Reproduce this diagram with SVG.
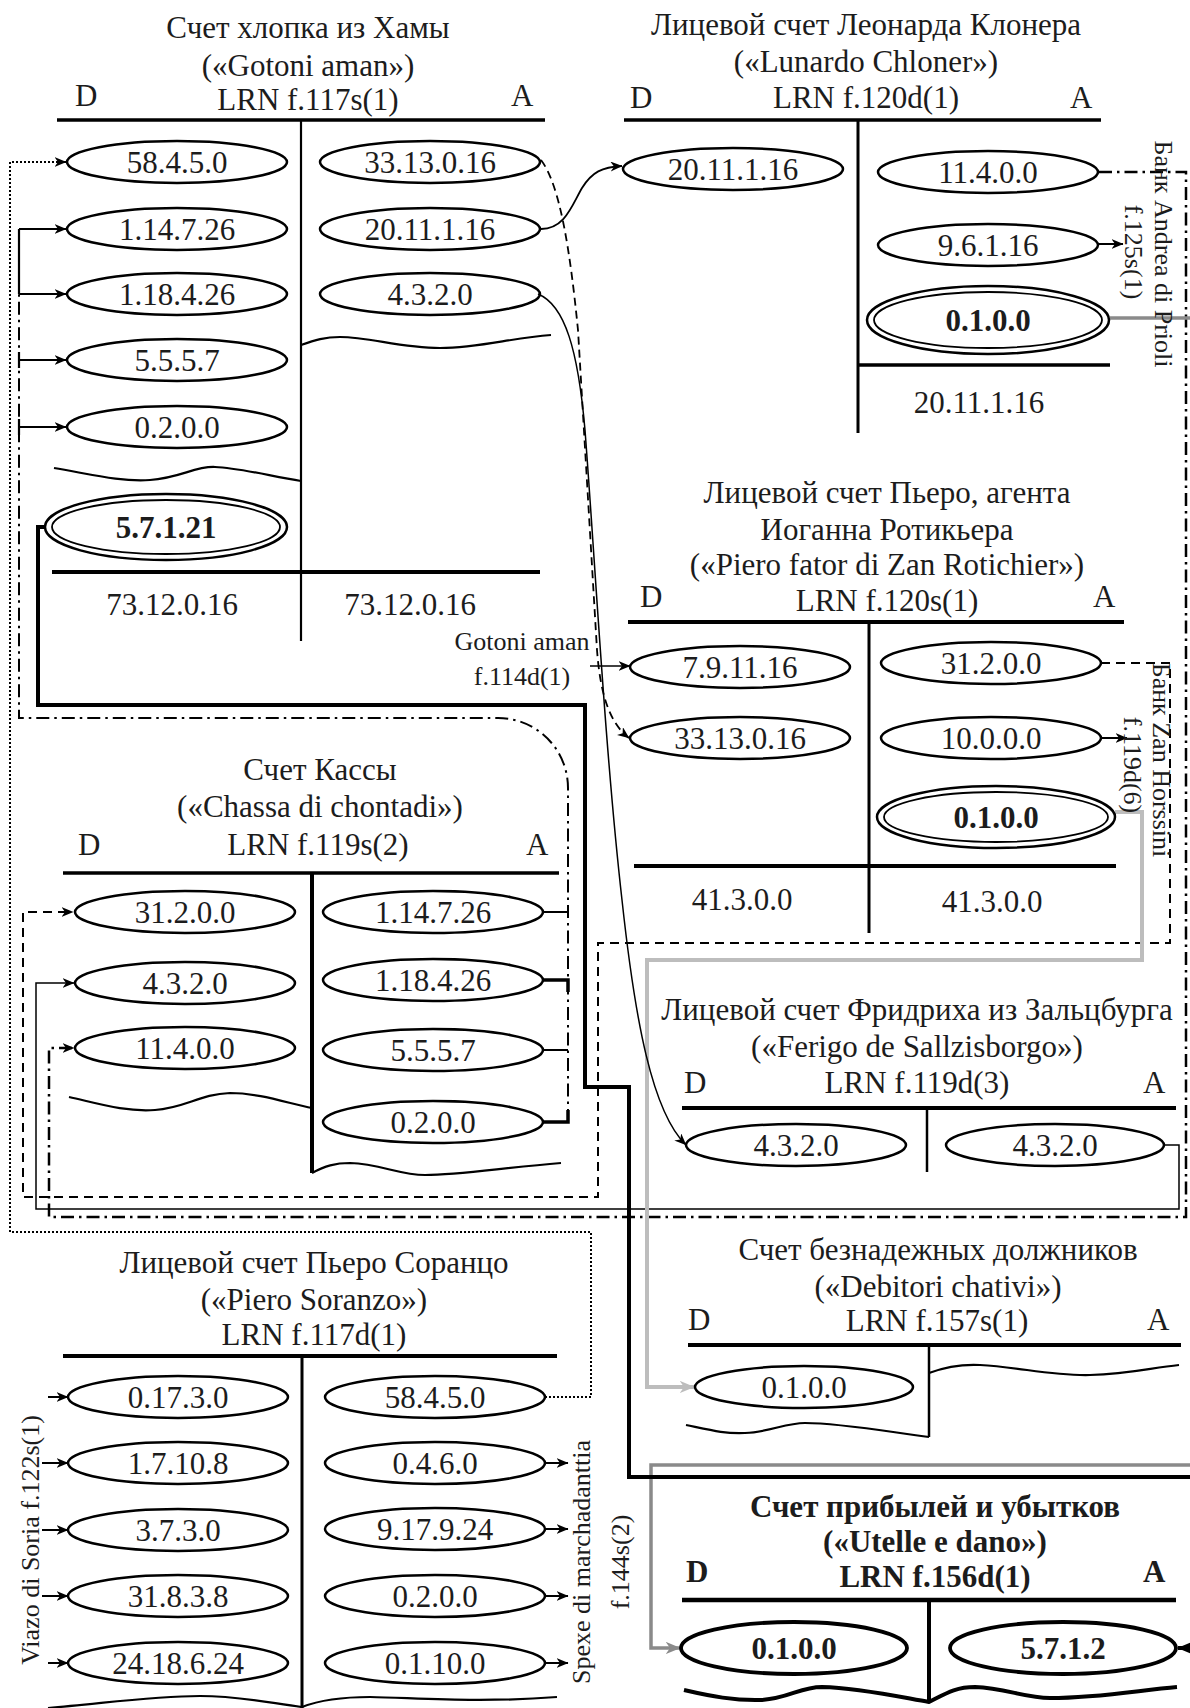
<svg xmlns="http://www.w3.org/2000/svg" width="1190" height="1708" viewBox="0 0 1190 1708">
<style>
text{font-family:"Liberation Serif","Times New Roman",serif;font-size:31px;fill:#1c1c1c}
.c{text-anchor:middle}
.b{font-weight:bold}
.s{font-size:26px}
.e{fill:none;stroke:#000;stroke-width:2.5}
.e2{fill:none;stroke:#000;stroke-width:1.8}
.eb{fill:none;stroke:#000;stroke-width:3.8}
.ln{stroke:#000;fill:none}
.w{fill:none;stroke:#000;stroke-width:2.2}
.wb{fill:none;stroke:#000;stroke-width:4}
.cn{fill:none;stroke:#000}
.g1{fill:none;stroke:#bdbdbd;stroke-width:4}
.g2{fill:none;stroke:#8a8a8a;stroke-width:3.5}
.dd{stroke-dasharray:13 5 2.5 5}
.da{stroke-dasharray:9 6}
.dt{stroke-dasharray:2 2}
</style>
<defs>
<marker id="ah" viewBox="0 0 12 10" refX="11.5" refY="5" markerWidth="12" markerHeight="10" markerUnits="userSpaceOnUse" orient="auto"><path d="M0,0 L12,5 L0,10 L3.5,5 Z" fill="#000"/></marker>
<marker id="ahg1" viewBox="0 0 12 10" refX="11.5" refY="5" markerWidth="15" markerHeight="13" markerUnits="userSpaceOnUse" orient="auto"><path d="M0,0 L12,5 L0,10 L3.5,5 Z" fill="#bdbdbd"/></marker>
<marker id="ahg2" viewBox="0 0 12 10" refX="11.5" refY="5" markerWidth="15" markerHeight="13" markerUnits="userSpaceOnUse" orient="auto"><path d="M0,0 L12,5 L0,10 L3.5,5 Z" fill="#8a8a8a"/></marker>
<marker id="ahb" viewBox="0 0 12 10" refX="11.5" refY="5" markerWidth="16" markerHeight="14" markerUnits="userSpaceOnUse" orient="auto"><path d="M0,0 L12,5 L0,10 L3.5,5 Z" fill="#000"/></marker>
</defs>
<rect width="1190" height="1708" fill="#fff"/>

<g id="connectors">
<!-- dotted: Soranzo 58.4.5.0 -> Gotoni 58.4.5.0 -->
<path class="cn dt" stroke-width="2" d="M545,1397 L591,1397 L591,1232 L10,1232 L10,162 L66,162" marker-end="url(#ah)"/>
<!-- dash-dot: Chassa credits -> Gotoni debits -->
<path class="cn dd" stroke-width="2" d="M568,1122 L568,788 A70,70 0 0 0 498,718 L19,718 L19,294"/>
<path class="cn" stroke-width="2" d="M543,912 L568,912 M543,1050 L568,1050"/>
<path class="cn" stroke-width="3.5" d="M543,980 L568,980 L568,992 M543,1122 L568,1122 L568,1110"/>
<path class="cn" stroke-width="2.2" d="M19,229 L19,294 M19,352 L19,368 M19,419 L19,435"/>
<path class="cn" stroke-width="2" d="M19,229 L66,229" marker-end="url(#ah)"/>
<path class="cn" stroke-width="2" d="M19,294 L66,294" marker-end="url(#ah)"/>
<path class="cn" stroke-width="2" d="M19,360 L66,360" marker-end="url(#ah)"/>
<path class="cn" stroke-width="2" d="M19,427 L66,427" marker-end="url(#ah)"/>
<!-- dashed: Piero 31.2.0.0 -> Chassa 31.2.0.0 -->
<path class="cn da" stroke-width="2" d="M1101,663 L1170,663 L1170,943 L598,943 L598,1197 L23,1197 L23,912 L73,912" marker-end="url(#ah)"/>
<!-- solid thin: Ferigo 4.3.2.0 -> Chassa 4.3.2.0 -->
<path class="cn" stroke-width="1.5" d="M1164,1145 L1179,1145 L1179,1209 L36,1209 L36,983 L74,983" marker-end="url(#ah)"/>
<!-- dash-dot: Lunardo 11.4.0.0 -> Chassa 11.4.0.0 -->
<path class="cn dd" stroke-width="2.5" d="M1099,172 L1186,172 L1186,1217 L49,1217 L49,1048 L74,1048" marker-end="url(#ah)"/>
<!-- dark gray: Lunardo 0.1.0.0 -> Utelle 0.1.0.0 -->
<path class="g2" d="M1110,318 L1200,318 L1200,1465 L651,1465 L651,1648 L680,1648" marker-end="url(#ahg2)"/>
<!-- light gray: Piero 0.1.0.0 -> Debitori 0.1.0.0 -->
<path class="g1" d="M1115,812 L1142,812 L1142,960 L647,960 L647,1387 L694,1387" marker-end="url(#ahg1)"/>
<!-- thick black: Gotoni 5.7.1.21 -> Utelle 5.7.1.2 -->
<path class="cn" stroke-width="4" d="M45,527 L38,527 L38,705 L585,705 L585,1087 L629,1087 L629,1477 L1200,1477 L1200,1648 L1178,1648" marker-end="url(#ahb)"/>
<!-- Gotoni 20.11.1.16 -> Lunardo 20.11.1.16 -->
<path class="cn" stroke-width="1.8" d="M541,229 C565,229 572,205 582,188 C592,172 602,167 622,166" marker-end="url(#ah)"/>
<!-- Gotoni 33.13.0.16 -> Piero 33.13.0.16 (dashed) -->
<path class="cn" stroke-width="1.8" stroke-dasharray="8 5" d="M541,160 C560,185 570,250 578,330 L597,650 C600,690 608,722 629,738" marker-end="url(#ah)"/>
<!-- Gotoni 4.3.2.0 -> Ferigo 4.3.2.0 -->
<path class="cn" stroke-width="1.5" d="M538,294 C565,305 578,350 585,430 C595,560 605,750 622,900 C635,1020 652,1112 686,1145" marker-end="url(#ah)"/>
<!-- Gotoni aman f.114d(1) -> Piero 7.9.11.16 -->
<path class="cn" stroke-width="1.5" d="M590,666 L630,666" marker-end="url(#ah)"/>
<!-- Lunardo 9.6.1.16 -> Bank Andrea di Prioli -->
<path class="cn" stroke-width="2" d="M1099,244 L1123,244" marker-end="url(#ah)"/>
<!-- Piero 10.0.0.0 -> Bank Zan Horssini -->
<path class="cn" stroke-width="2" d="M1101,738 L1127,738" marker-end="url(#ah)"/>
<!-- Soranzo arrows -->
<path class="cn" stroke-width="2" d="M48,1397 L68,1397" marker-end="url(#ah)"/>
<path class="cn" stroke-width="2" d="M42,1463 L68,1463" marker-end="url(#ah)"/>
<path class="cn" stroke-width="2" d="M42,1530 L68,1530" marker-end="url(#ah)"/>
<path class="cn" stroke-width="2" d="M42,1596 L68,1596" marker-end="url(#ah)"/>
<path class="cn" stroke-width="2" d="M48,1663 L68,1663" marker-end="url(#ah)"/>
<path class="cn" stroke-width="2" d="M545,1463 L568,1463" marker-end="url(#ah)"/>
<path class="cn" stroke-width="2" d="M545,1529 L568,1529" marker-end="url(#ah)"/>
<path class="cn" stroke-width="2" d="M545,1596 L568,1596" marker-end="url(#ah)"/>
<path class="cn" stroke-width="2" d="M545,1663 L568,1663" marker-end="url(#ah)"/>
</g>

<g id="acc-gotoni">
<text class="c" x="308" y="38">Счет хлопка из Хамы</text>
<text class="c" x="308" y="76">(«Gotoni aman»)</text>
<text x="75" y="106">D</text>
<text class="c" x="308" y="110">LRN f.117s(1)</text>
<text x="511" y="106">A</text>
<line class="ln" x1="57" y1="120" x2="545" y2="120" stroke-width="3.5"/>
<line class="ln" x1="301" y1="120" x2="301" y2="641" stroke-width="2.2"/>
<ellipse class="e" cx="177" cy="162" rx="110" ry="21"/><text class="c" x="177" y="173">58.4.5.0</text>
<ellipse class="e" cx="177" cy="229" rx="110" ry="21"/><text class="c" x="177" y="240">1.14.7.26</text>
<ellipse class="e" cx="177" cy="294" rx="110" ry="21"/><text class="c" x="177" y="305">1.18.4.26</text>
<ellipse class="e" cx="177" cy="360" rx="110" ry="21"/><text class="c" x="177" y="371">5.5.5.7</text>
<ellipse class="e" cx="177" cy="427" rx="110" ry="21"/><text class="c" x="177" y="438">0.2.0.0</text>
<ellipse class="e" cx="430" cy="162" rx="110" ry="21"/><text class="c" x="430" y="173">33.13.0.16</text>
<ellipse class="e" cx="430" cy="229" rx="110" ry="21"/><text class="c" x="430" y="240">20.11.1.16</text>
<ellipse class="e" cx="430" cy="294" rx="110" ry="21"/><text class="c" x="430" y="305">4.3.2.0</text>
<path class="w" d="M301,345 C315,340 325,337 340,337 C370,337 400,348 440,348 C480,348 510,338 551,335"/>
<path class="w" d="M54,468 C90,474 120,482 150,480 C180,478 195,466 215,467 C240,468 270,476 301,481"/>
<ellipse class="e" cx="166" cy="527" rx="121" ry="33"/>
<ellipse class="e2" cx="166" cy="527" rx="114" ry="27"/>
<text class="c b" x="166" y="538">5.7.1.21</text>
<line class="ln" x1="52" y1="572" x2="540" y2="572" stroke-width="4"/>
<text class="c" x="172" y="615">73.12.0.16</text>
<text class="c" x="410" y="615">73.12.0.16</text>
</g>

<g id="acc-lunardo">
<text class="c" x="866" y="35">Лицевой счет Леонарда Клонера</text>
<text class="c" x="866" y="72">(«Lunardo Chloner»)</text>
<text x="630" y="108">D</text>
<text class="c" x="866" y="108">LRN f.120d(1)</text>
<text x="1070" y="108">A</text>
<line class="ln" x1="624" y1="120" x2="1101" y2="120" stroke-width="3.5"/>
<line class="ln" x1="858" y1="120" x2="858" y2="433" stroke-width="3"/>
<ellipse class="e" cx="733" cy="169" rx="110" ry="21"/><text class="c" x="733" y="180">20.11.1.16</text>
<ellipse class="e" cx="988" cy="172" rx="110" ry="21"/><text class="c" x="988" y="183">11.4.0.0</text>
<ellipse class="e" cx="988" cy="245" rx="110" ry="21"/><text class="c" x="988" y="256">9.6.1.16</text>
<ellipse class="e" cx="988" cy="320" rx="121" ry="34"/>
<ellipse class="e2" cx="988" cy="320" rx="114" ry="28"/>
<text class="c b" x="988" y="331">0.1.0.0</text>
<line class="ln" x1="858" y1="365" x2="1110" y2="365" stroke-width="3.5"/>
<text class="c" x="979" y="413">20.11.1.16</text>
</g>

<g id="acc-piero-fator">
<text class="c" x="887" y="503">Лицевой счет Пьеро, агента</text>
<text class="c" x="887" y="540">Иоганна Ротикьера</text>
<text class="c" x="887" y="575">(«Piero fator di Zan Rotichier»)</text>
<text x="640" y="607">D</text>
<text class="c" x="887" y="611">LRN f.120s(1)</text>
<text x="1093" y="607">A</text>
<line class="ln" x1="628" y1="622" x2="1124" y2="622" stroke-width="4"/>
<line class="ln" x1="869" y1="622" x2="869" y2="933" stroke-width="3"/>
<ellipse class="e" cx="740" cy="667" rx="110" ry="21"/><text class="c" x="740" y="678">7.9.11.16</text>
<ellipse class="e" cx="740" cy="738" rx="110" ry="21"/><text class="c" x="740" y="749">33.13.0.16</text>
<ellipse class="e" cx="991" cy="663" rx="110" ry="21"/><text class="c" x="991" y="674">31.2.0.0</text>
<ellipse class="e" cx="991" cy="738" rx="110" ry="21"/><text class="c" x="991" y="749">10.0.0.0</text>
<ellipse class="e" cx="996" cy="817" rx="119" ry="31"/>
<ellipse class="e2" cx="996" cy="817" rx="112" ry="25"/>
<text class="c b" x="996" y="828">0.1.0.0</text>
<line class="ln" x1="634" y1="866" x2="1116" y2="866" stroke-width="4"/>
<text class="c" x="742" y="910">41.3.0.0</text>
<text class="c" x="992" y="912">41.3.0.0</text>
</g>

<g id="acc-chassa">
<text class="c" x="320" y="780">Счет Кассы</text>
<text class="c" x="320" y="817">(«Chassa di chontadi»)</text>
<text x="78" y="855">D</text>
<text class="c" x="318" y="855">LRN f.119s(2)</text>
<text x="526" y="855">A</text>
<line class="ln" x1="63" y1="873" x2="559" y2="873" stroke-width="3.5"/>
<line class="ln" x1="312" y1="873" x2="312" y2="1173" stroke-width="4"/>
<ellipse class="e" cx="185" cy="912" rx="110" ry="21"/><text class="c" x="185" y="923">31.2.0.0</text>
<ellipse class="e" cx="185" cy="983" rx="110" ry="21"/><text class="c" x="185" y="994">4.3.2.0</text>
<ellipse class="e" cx="185" cy="1048" rx="110" ry="21"/><text class="c" x="185" y="1059">11.4.0.0</text>
<ellipse class="e" cx="433" cy="912" rx="110" ry="21"/><text class="c" x="433" y="923">1.14.7.26</text>
<ellipse class="e" cx="433" cy="980" rx="110" ry="21"/><text class="c" x="433" y="991">1.18.4.26</text>
<ellipse class="e" cx="433" cy="1050" rx="110" ry="21"/><text class="c" x="433" y="1061">5.5.5.7</text>
<ellipse class="e" cx="433" cy="1122" rx="110" ry="21"/><text class="c" x="433" y="1133">0.2.0.0</text>
<path class="w" d="M69,1097 C100,1104 125,1112 155,1110 C185,1108 200,1094 230,1093 C260,1093 290,1104 312,1108"/>
<path class="w" d="M312,1173 C325,1166 335,1163 350,1163 C380,1164 400,1175 425,1175 C460,1175 500,1168 561,1163"/>
</g>

<g id="acc-ferigo">
<text class="c" x="917" y="1020">Лицевой счет Фридриха из Зальцбурга</text>
<text class="c" x="917" y="1057">(«Ferigo de Sallzisborgo»)</text>
<text x="684" y="1093">D</text>
<text class="c" x="917" y="1093">LRN f.119d(3)</text>
<text x="1143" y="1093">A</text>
<line class="ln" x1="682" y1="1108" x2="1176" y2="1108" stroke-width="4"/>
<line class="ln" x1="927" y1="1108" x2="927" y2="1172" stroke-width="2.5"/>
<ellipse class="e" cx="796" cy="1145" rx="110" ry="21"/><text class="c" x="796" y="1156">4.3.2.0</text>
<ellipse class="e" cx="1055" cy="1145" rx="109" ry="21"/><text class="c" x="1055" y="1156">4.3.2.0</text>
</g>

<g id="acc-debitori">
<text class="c" x="938" y="1260">Счет безнадежных должников</text>
<text class="c" x="938" y="1297">(«Debitori chativi»)</text>
<text x="688" y="1330">D</text>
<text class="c" x="937" y="1331">LRN f.157s(1)</text>
<text x="1147" y="1330">A</text>
<line class="ln" x1="688" y1="1345" x2="1181" y2="1345" stroke-width="4"/>
<line class="ln" x1="929" y1="1345" x2="929" y2="1437" stroke-width="2.5"/>
<ellipse class="e" cx="804" cy="1387" rx="109" ry="21"/><text class="c" x="804" y="1398">0.1.0.0</text>
<path class="w" d="M929,1373 C945,1367 960,1364 980,1365 C1020,1367 1050,1376 1090,1375 C1130,1374 1150,1368 1179,1365"/>
<path class="w" d="M686,1425 C710,1430 725,1434 745,1433 C770,1432 785,1423 805,1423 C840,1423 890,1432 929,1437"/>
</g>

<g id="acc-soranzo">
<text class="c" x="314" y="1273">Лицевой счет Пьеро Соранцо</text>
<text class="c" x="314" y="1310">(«Piero Soranzo»)</text>
<text class="c" x="314" y="1345">LRN f.117d(1)</text>
<line class="ln" x1="63" y1="1356" x2="557" y2="1356" stroke-width="4"/>
<line class="ln" x1="302" y1="1356" x2="302" y2="1708" stroke-width="3"/>
<ellipse class="e" cx="178" cy="1397" rx="110" ry="21"/><text class="c" x="178" y="1408">0.17.3.0</text>
<ellipse class="e" cx="178" cy="1463" rx="110" ry="21"/><text class="c" x="178" y="1474">1.7.10.8</text>
<ellipse class="e" cx="178" cy="1530" rx="110" ry="21"/><text class="c" x="178" y="1541">3.7.3.0</text>
<ellipse class="e" cx="178" cy="1596" rx="110" ry="21"/><text class="c" x="178" y="1607">31.8.3.8</text>
<ellipse class="e" cx="178" cy="1663" rx="110" ry="21"/><text class="c" x="178" y="1674">24.18.6.24</text>
<ellipse class="e" cx="435" cy="1397" rx="110" ry="21"/><text class="c" x="435" y="1408">58.4.5.0</text>
<ellipse class="e" cx="435" cy="1463" rx="110" ry="21"/><text class="c" x="435" y="1474">0.4.6.0</text>
<ellipse class="e" cx="435" cy="1529" rx="110" ry="21"/><text class="c" x="435" y="1540">9.17.9.24</text>
<ellipse class="e" cx="435" cy="1596" rx="110" ry="21"/><text class="c" x="435" y="1607">0.2.0.0</text>
<ellipse class="e" cx="435" cy="1663" rx="110" ry="21"/><text class="c" x="435" y="1674">0.1.10.0</text>
<path class="w" stroke-width="3" d="M48,1708 C100,1704 150,1696 200,1696 C240,1696 270,1703 302,1707"/>
<path class="w" stroke-width="3" d="M302,1707 C320,1700 340,1697 370,1697 C420,1698 480,1703 557,1697"/>
</g>

<g id="acc-utelle">
<text class="c b" x="935" y="1517">Счет прибылей и убытков</text>
<text class="c b" x="935" y="1552">(«Utelle e dano»)</text>
<text class="b" x="686" y="1582">D</text>
<text class="c b" x="935" y="1587">LRN f.156d(1)</text>
<text class="b" x="1143" y="1582">A</text>
<line class="ln" x1="682" y1="1600" x2="1176" y2="1600" stroke-width="4.5"/>
<line class="ln" x1="929" y1="1600" x2="929" y2="1702" stroke-width="4"/>
<ellipse class="eb" cx="794" cy="1648" rx="113" ry="26"/><text class="c b" x="794" y="1659">0.1.0.0</text>
<ellipse class="eb" cx="1063" cy="1648" rx="113" ry="26"/><text class="c b" x="1063" y="1659">5.7.1.2</text>
<path class="wb" d="M684,1690 C710,1696 735,1701 762,1700 C790,1698 800,1687 822,1687 C860,1688 900,1697 929,1702 C945,1694 955,1687 975,1687 C1005,1688 1025,1698 1050,1698 C1100,1698 1140,1690 1177,1687"/>
</g>

<g id="labels">
<text class="c s" x="522" y="650">Gotoni aman</text>
<text class="c s" x="522" y="685">f.114d(1)</text>
<text class="c s" transform="translate(1155,254) rotate(90)">Банк Andrea di Prioli</text>
<text class="c s" transform="translate(1125,252) rotate(90)">f.125s(1)</text>
<text class="c s" transform="translate(1153,760) rotate(90)">Банк Zan Horssini</text>
<text class="c s" transform="translate(1124,765) rotate(90)">f.119d(6)</text>
<text class="c s" transform="translate(39,1540) rotate(-90)">Viazo di Soria f.122s(1)</text>
<text class="c s" transform="translate(590,1562) rotate(-90)">Spexe di marchadanttia</text>
<text class="c s" transform="translate(629,1562) rotate(-90)">f.144s(2)</text>
</g>
</svg>
